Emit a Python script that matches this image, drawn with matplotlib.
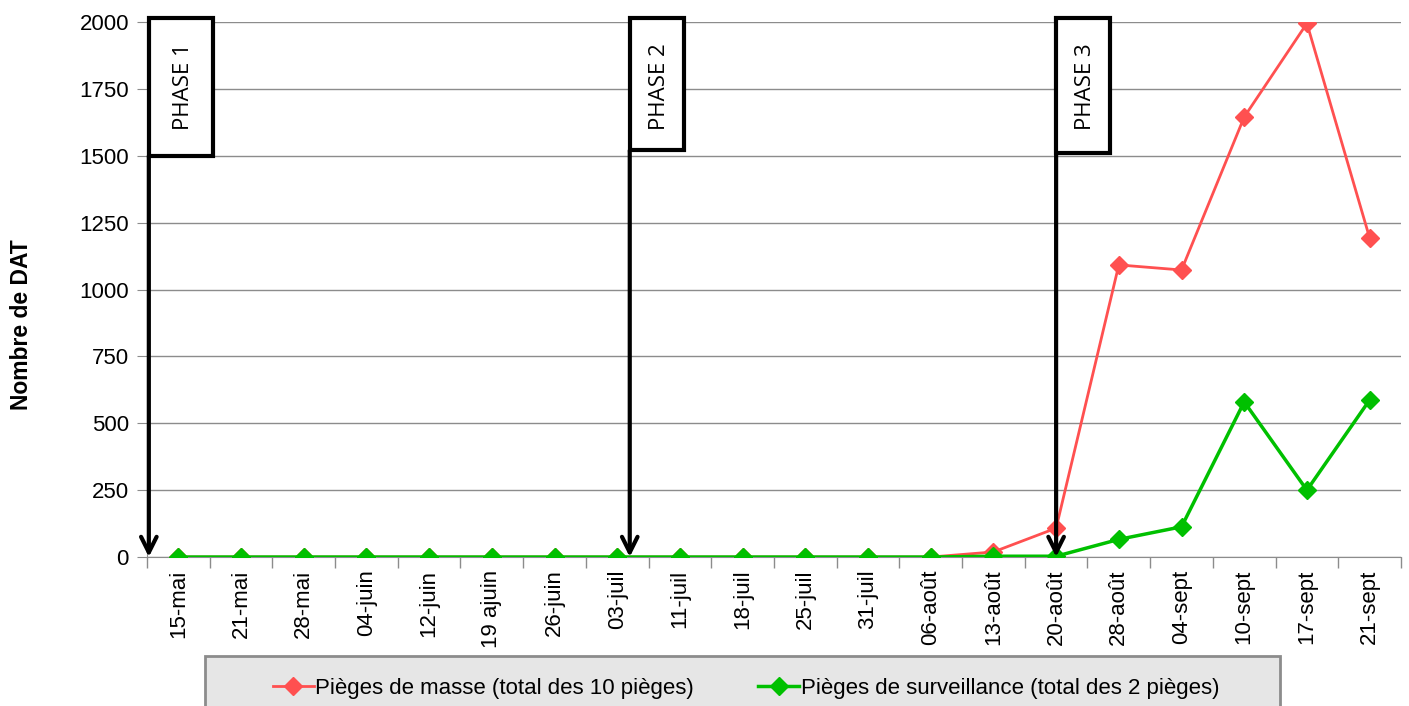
import numpy as np
import matplotlib.pyplot as plt
from matplotlib.patches import Rectangle

plt.rcParams['font.family'] = ['Liberation Sans', 'DejaVu Sans']

# Relevés hebdomadaires
dates = ['15-mai', '21-mai', '28-mai', '04-juin', '12-juin', '19 ajuin', '26-juin',
         '03-juil', '11-juil', '18-juil', '25-juil', '31-juil', '06-août', '13-août',
         '20-août', '28-août', '04-sept', '10-sept', '17-sept', '21-sept']
masse = [0, 0, 0, 0, 0, 0, 0, 0, 0, 0, 0, 0, 0, 19, 108, 1092, 1073, 1645, 1995, 1193]
surveillance = [0, 0, 0, 0, 0, 0, 0, 0, 0, 0, 0, 0, 0, 3, 3, 66, 113, 580, 250, 587]

phase_labels = ['PHASE 1', 'PHASE 2', 'PHASE 3']
phase_x = [-0.47, 7.2, 14.0]
phase_box_bottom = [1500, 1520, 1510]

RED = '#ff5050'
GREEN = '#00c000'

fig = plt.figure(figsize=(14.09, 7.06), dpi=100)
ax = fig.add_axes([0.1043, 0.211, 0.89, 0.7578])

x = np.arange(len(dates))
l1, = ax.plot(x, masse, color=RED, lw=2, marker='D', ms=9, zorder=3,
              label='Pièges de masse (total des 10 pièges)')
l2, = ax.plot(x, surveillance, color=GREEN, lw=2.5, marker='D', ms=9, zorder=4,
              label='Pièges de surveillance (total des 2 pièges)')

ax.set_xlim(-0.5, len(dates) - 0.5)
ax.set_ylim(0, 2000)
ax.set_yticks(np.arange(0, 2001, 250))
ax.yaxis.grid(True, color='#8c8c8c', lw=1)
ax.set_axisbelow(True)

ax.set_xticks(x)
ax.set_xticklabels(dates, rotation=90, fontsize=16)
ax.set_xticks(np.arange(-0.5, len(dates)), minor=True)
ax.tick_params(axis='x', which='major', length=0, pad=9)
ax.tick_params(axis='x', which='minor', length=8, color='#8c8c8c', width=1)
ax.tick_params(axis='y', labelsize=16, length=7, color='#8c8c8c', pad=6)

for s in ['top', 'right']:
    ax.spines[s].set_visible(False)
for s in ['left', 'bottom']:
    ax.spines[s].set_color('#8c8c8c')

ax.set_ylabel('Nombre de DAT', fontsize=16.5, fontweight='bold')
ax.yaxis.set_label_coords(-0.091, 0.435)

# Encadrés des phases avec flèches vers l'axe
for lab, px, yb in zip(phase_labels, phase_x, phase_box_bottom):
    w = 0.86 if lab != 'PHASE 1' else 1.02
    ax.add_patch(Rectangle((px, yb), w, 2015 - yb, facecolor='white', edgecolor='black',
                           lw=3, clip_on=False, zorder=6))
    ax.text(px + w / 2 + 0.04, 2015 - 95, lab, rotation=90, ha='center', va='top',
            fontsize=16, family=['Open Sans', 'DejaVu Sans'], zorder=7, clip_on=False)
    ax.annotate('', xy=(px, 0), xytext=(px, yb),
                arrowprops=dict(arrowstyle='->', color='black', lw=3,
                                mutation_scale=28, shrinkA=0, shrinkB=0),
                zorder=8, annotation_clip=False)

# Cadre gris de la légende
fig.patches.append(Rectangle((205 / 1409, -0.02), 1075 / 1409, 0.071 + 0.02,
                             transform=fig.transFigure, facecolor='#e6e6e6',
                             edgecolor='#8c8c8c', lw=2, zorder=0))
fig.legend(handles=[l1, l2], loc='center', bbox_to_anchor=(746 / 1409, 0.025),
           ncol=2, fontsize=16, frameon=False, handlelength=1.85,
           handletextpad=0.05, columnspacing=2.9)

fig.savefig('out.png', dpi=100)
